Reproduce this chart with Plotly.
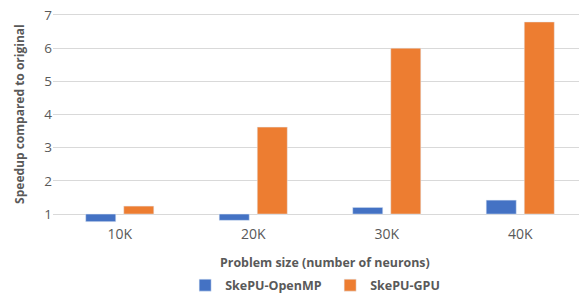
import plotly.graph_objects as go

categories = ["10K", "20K", "30K", "40K"]
openmp = [0.77, 0.81, 1.2, 1.42]
gpu = [1.24, 3.62, 6.0, 6.79]
y_ticks = [1, 2, 3, 4, 5, 6, 7]
baseline = 1

FONT = "Open Sans"
GRAY = "#595959"

fig = go.Figure()
fig.add_trace(go.Bar(name="<b>SkePU-OpenMP</b>", x=categories, y=[v - baseline for v in openmp],
                     base=baseline, marker_color="#4472C4"))
fig.add_trace(go.Bar(name="<b>SkePU-GPU</b>", x=categories, y=[v - baseline for v in gpu],
                     base=baseline, marker_color="#ED7D31"))

# page body has an 8px margin, so the figure is sized to the visible area
fig.update_layout(
    width=579, height=287,
    margin=dict(l=45, r=0, t=0, b=71, autoexpand=False),
    paper_bgcolor="white", plot_bgcolor="white",
    barmode="group", bargap=0.43, bargroupgap=0.21,
    font=dict(family=FONT, color=GRAY, size=12),
    showlegend=True,
    legend=dict(orientation="h", x=0.519, xanchor="center", yref="container", y=9.5 / 287,
                yanchor="middle", entrywidth=100,
                font=dict(family=FONT, size=12.5, color=GRAY), itemwidth=30,
                traceorder="normal"),
    xaxis=dict(showgrid=False, showline=False, ticks="", tickfont=dict(size=14, color=GRAY)),
    yaxis=dict(range=[0.7, 7.21], tickvals=y_ticks, showgrid=True, gridcolor="#D9D9D9",
               gridwidth=1, zeroline=False, showline=False, ticks="",
               ticklabeloverflow="allow", tickfont=dict(size=13.5, color=GRAY)),
)
fig.add_annotation(text="<b>Problem size (number of neurons)</b>", xref="paper", yref="paper",
                   x=0.51, y=-38 / 216, showarrow=False, yanchor="middle",
                   font=dict(family=FONT, size=12.4, color=GRAY))
fig.add_annotation(text="<b>Speedup compared to original</b>", xref="paper", yref="paper",
                   x=-0.062, xanchor="center", y=(216 - 106) / 216, showarrow=False,
                   textangle=-90, font=dict(family=FONT, size=12, color=GRAY))

fig.write_html("out.html")
